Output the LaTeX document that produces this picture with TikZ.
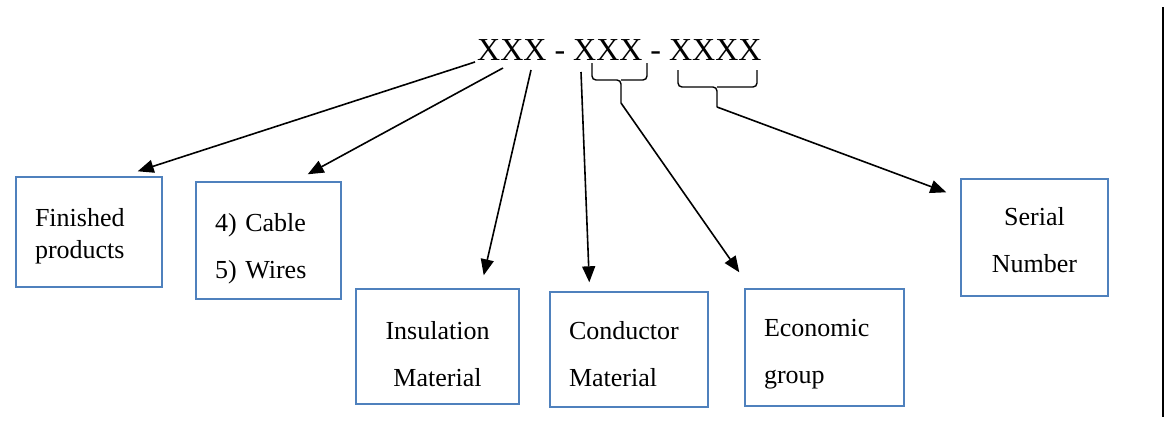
\documentclass[tikz,border=0pt]{standalone}
\usepackage{fontspec}
\setmainfont{Liberation Serif}
\usetikzlibrary{arrows.meta}
\definecolor{boxblue}{RGB}{79,129,189}

\begin{document}
\begin{tikzpicture}[
    x=1pt, y=-1pt,
    box/.style={draw=boxblue, line width=1.4pt, inner xsep=19pt, inner ysep=2pt, font=\fontsize{26}{47}\selectfont, text height=30pt, align=left},
    arr/.style={draw, line width=1.6pt, -{Triangle[length=16pt, width=13pt]}},
    brace/.style={draw, line width=1.4pt, rounded corners=4pt},
  ]
    \useasboundingbox (0,0) rectangle (1165,423);

    % === code ===
    \node[font=\fontsize{32}{38}\selectfont, anchor=base west, inner sep=0pt] (code) at (477,60) {XXX - XXX - XXXX};
    \coordinate (s1) at (475,62);
    \coordinate (s2) at (503,68);
    \coordinate (s3) at (531,70);
    \coordinate (s4) at (581,72);
    \coordinate (b1) at (621,103);
    \coordinate (b2) at (717,107);

    % braces under the last two groups
    \draw[brace] (592,63) |- (621,80) -- (b1);
    \draw[brace] (647,63) |- (621,80);
    \draw[brace] (678,70) |- (717,87) -- (b2);
    \draw[brace] (757,70) |- (717,87);

    % === boxes ===
    \node[box, minimum width=146pt, minimum height=110pt, text width=108pt, font=\fontsize{26}{32}\selectfont, text height=26pt] (fin) at (89,232) {Finished\\products};
    \node[box, minimum width=145pt, minimum height=117pt, text width=107pt, text height=34pt] (cab) at (268.5,240.5) {4) Cable\\5) Wires};
    \node[box, align=center, minimum width=163pt, minimum height=115pt, text width=125pt, text height=34pt] (ins) at (437.5,346.5) {Insulation\\Material};
    \node[box, minimum width=158pt, minimum height=115pt, text width=120pt, text height=28pt] (con) at (629,349.5) {Conductor\\Material};
    \node[box, minimum width=159pt, minimum height=117pt, text width=121pt] (eco) at (824.5,347.5) {Economic\\group};
    \node[box, align=center, minimum width=147pt, minimum height=117pt, text width=109pt, text height=24pt] (ser) at (1034.5,237.5) {Serial\\Number};

    % === arrows ===
    \draw[arr] (s1) -- ([shift={(-25,-5)}]fin.north east);
    \draw[arr] (s2) -- ([shift={(-34,-7)}]cab.north east);
    \draw[arr] (s3) -- ([shift={(-36,-13)}]ins.north east);
    \draw[arr] (s4) -- ([shift={(40,-9)}]con.north west);
    \draw[arr] (b1) -- ([shift={(-5,-16)}]eco.north west);
    \draw[arr] (b2) -- ([shift={(-14,14)}]ser.north west);

    % right margin line
    \draw[line width=2pt] (1163,7) -- (1163,417);
  \end{tikzpicture}
\end{document}
